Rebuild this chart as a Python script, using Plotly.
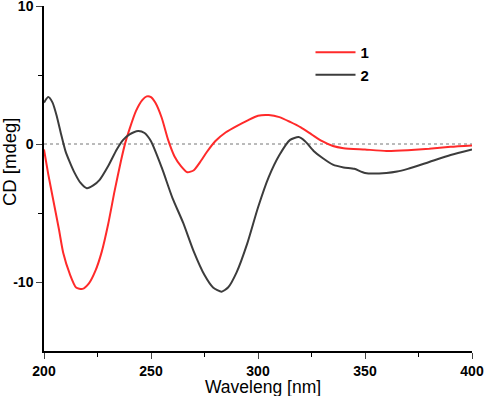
import plotly.graph_objects as go

wl1 = [200, 202, 204, 207, 209, 212, 215, 218, 221, 224, 227, 230, 233, 236, 238, 240, 243, 246, 248, 250, 252, 255, 258, 261, 264, 267, 270, 273, 276, 280, 285, 290, 295, 300, 305, 310, 315, 320, 325, 330, 335, 340, 350, 360, 370, 380, 390, 400]
cd1 = [-0.4, -2.2, -3.8, -6.2, -7.9, -9.4, -10.4, -10.5, -10.1, -9.2, -7.8, -5.8, -3.4, -1.2, 0.1, 1.1, 2.4, 3.2, 3.45, 3.4, 3.0, 1.9, 0.3, -0.9, -1.6, -2.05, -1.9, -1.3, -0.6, 0.2, 0.85, 1.3, 1.7, 2.05, 2.1, 1.95, 1.6, 1.2, 0.7, 0.2, -0.15, -0.3, -0.4, -0.5, -0.45, -0.35, -0.2, -0.1]

wl2 = [200, 202, 204, 206, 208, 210, 212, 214, 217, 220, 223, 226, 230, 234, 237, 240, 244, 247, 250, 255, 260, 265, 270, 275, 279, 283, 286, 290, 295, 300, 305, 310, 315, 319, 322, 326, 330, 335, 340, 345, 350, 360, 365, 370, 380, 390, 400]
cd2 = [3.0, 3.4, 3.0, 2.0, 0.7, -0.5, -1.3, -2.0, -2.8, -3.2, -3.0, -2.6, -1.6, -0.4, 0.3, 0.7, 0.95, 0.8, 0.2, -1.7, -3.9, -5.7, -7.8, -9.5, -10.4, -10.7, -10.4, -9.3, -7.2, -4.6, -2.4, -0.8, 0.3, 0.5, 0.2, -0.5, -1.0, -1.5, -1.7, -1.8, -2.1, -2.1, -2.0, -1.8, -1.3, -0.8, -0.4]

names = ["1", "2"]
colors = ["#ff2a2a", "#3c3c3c"]

x_ticks = [200, 250, 300, 350, 400]
x_minor = [225, 275, 325, 375]
y_ticks = [-10, 0, 10]
y_ticktext = ["-10", "0", "10"]
y_minor = [-5, 5]

W, H = 484, 396
L, R, T, B = 44, 12, 6, 45
pw, ph = W - L - R, H - T - B

fig = go.Figure()
fig.add_trace(go.Scatter(x=wl1, y=cd1, mode="lines", name=names[0],
                         line=dict(color=colors[0], width=2, shape="spline", smoothing=0.6)))
fig.add_trace(go.Scatter(x=wl2, y=cd2, mode="lines", name=names[1],
                         line=dict(color=colors[1], width=2, shape="spline", smoothing=0.6)))

fig.add_shape(type="line", xref="paper", yref="y", x0=0, x1=1, y0=0, y1=0,
              line=dict(color="#777777", width=1, dash="dot"), layer="below")

# axis titles as annotations (pixel placement)
fig.add_annotation(text="Waveleng [nm]", xref="paper", yref="paper",
                   x=(263 - L) / pw, y=-(386.5 - (T + ph)) / ph, xanchor="center", yanchor="middle",
                   showarrow=False, font=dict(size=17.5, color="black"))
fig.add_annotation(text="CD [mdeg]", xref="paper", yref="paper",
                   x=(9 - L) / pw, y=1 - (162 - T) / ph, xanchor="center", yanchor="middle",
                   textangle=-90, showarrow=False, font=dict(size=18.5, color="black"))

fig.update_layout(
    width=W, height=H,
    margin=dict(l=L, r=R, t=T, b=B, autoexpand=False),
    plot_bgcolor="white", paper_bgcolor="white",
    font=dict(family="Liberation Sans, Arial, sans-serif", color="black"),
    showlegend=True,
    legend=dict(x=(310.5 - L) / pw, y=1 - (36 - T) / ph, xanchor="left", yanchor="top",
                font=dict(size=15, family="Liberation Sans, Arial, sans-serif", weight="bold"),
                bgcolor="rgba(0,0,0,0)", itemwidth=40, tracegroupgap=0),
)
fig.update_xaxes(
    range=[200, 400], tickvals=x_ticks, ticks="outside", ticklen=6, tickwidth=1.2,
    showline=True, linecolor="black", linewidth=1.5, showgrid=False, zeroline=False,
    tickfont=dict(size=14, weight="bold"), automargin=False, ticklabeloverflow="allow",
    minor=dict(tickvals=x_minor, ticks="outside", ticklen=4, tickcolor="black", tickwidth=1.2),
)
fig.update_yaxes(
    range=[-15, 10], tickvals=y_ticks, ticktext=y_ticktext, ticks="outside", ticklen=6, tickwidth=1.2,
    showline=True, linecolor="black", linewidth=1.5, showgrid=False, zeroline=False,
    tickfont=dict(size=14, weight="bold"), automargin=False, ticklabeloverflow="allow",
    minor=dict(tickvals=y_minor, ticks="outside", ticklen=4, tickcolor="black", tickwidth=1.2),
)

fig.write_html("out.html", config={"displayModeBar": False},
               post_script="document.body.style.margin='0';")
